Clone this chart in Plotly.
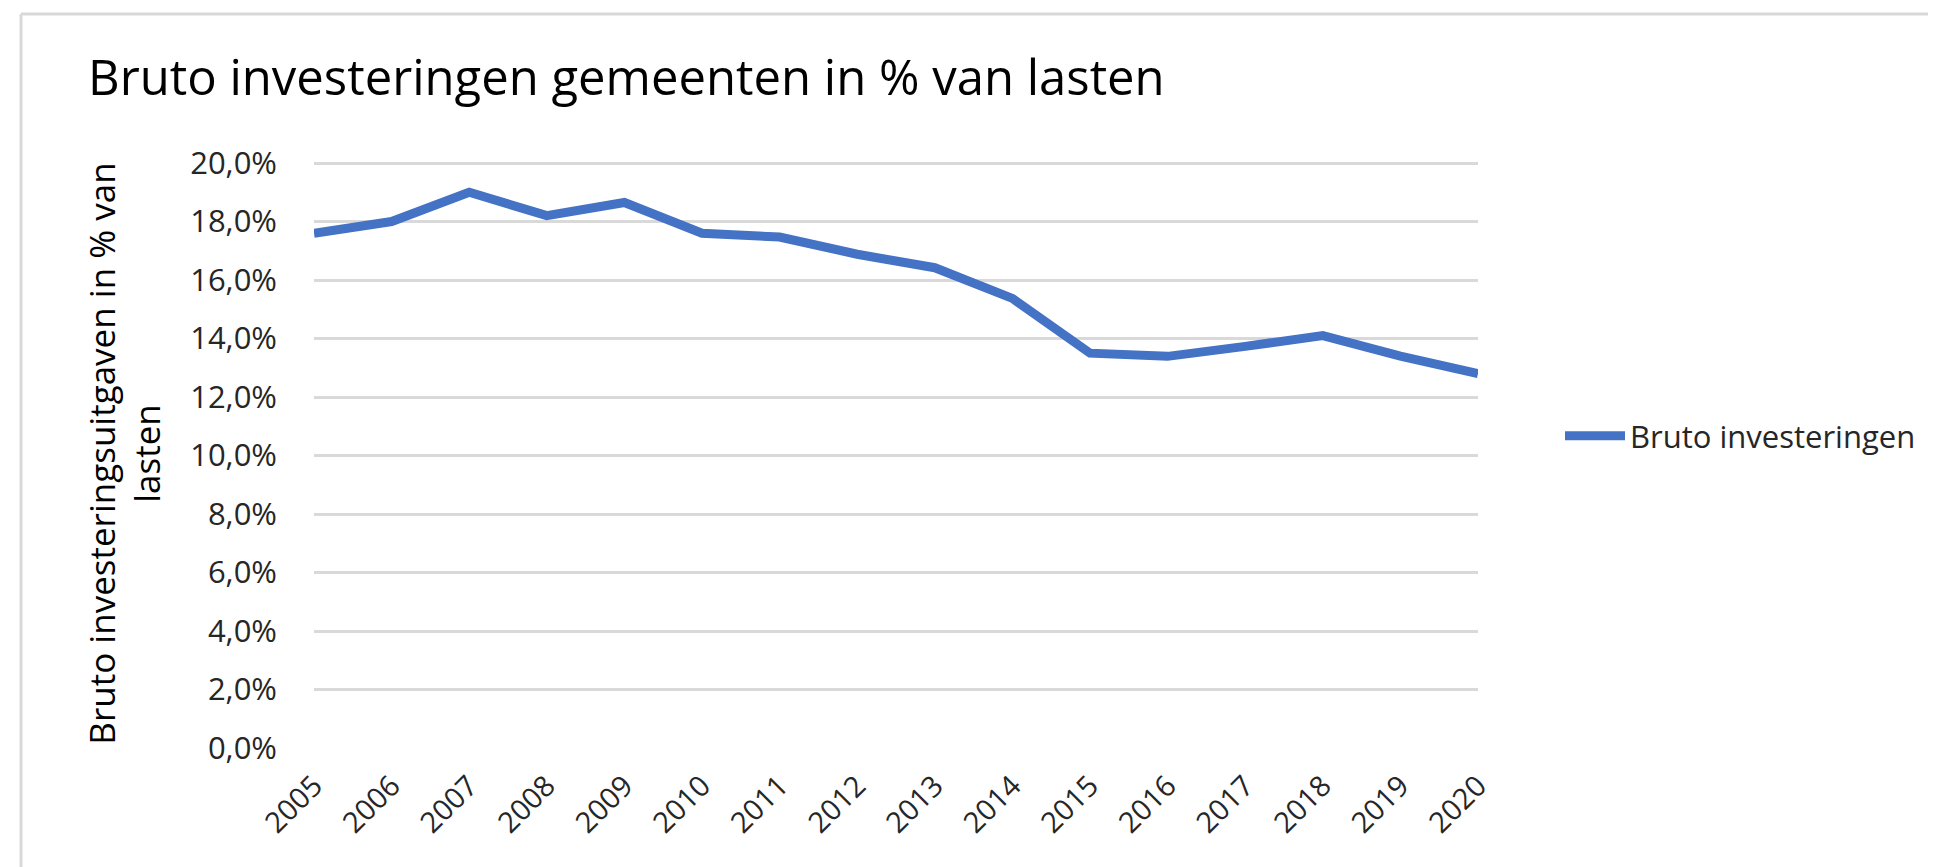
import plotly.graph_objects as go

years = ["2005", "2006", "2007", "2008", "2009", "2010", "2011", "2012",
         "2013", "2014", "2015", "2016", "2017", "2018", "2019", "2020"]
bruto = [0.176, 0.180, 0.190, 0.182, 0.1865, 0.176, 0.1747, 0.1688,
         0.1642, 0.1537, 0.1350, 0.1339, 0.1373, 0.1410, 0.1340, 0.1280]
yticks = [0.0, 0.02, 0.04, 0.06, 0.08, 0.10, 0.12, 0.14, 0.16, 0.18, 0.20]
yticklabels = ["0,0%", "2,0%", "4,0%", "6,0%", "8,0%", "10,0%", "12,0%",
               "14,0%", "16,0%", "18,0%", "20,0%"]

W, H = 1936, 867
L, R, T, B = 306, 1470, 151, 740
YMAX = 0.2 + (155 - T) / ((B - 155) / 0.2)

fig = go.Figure()
fig.add_trace(go.Scatter(
    x=years, y=bruto, mode="lines", name="Bruto investeringen",
    line=dict(color="#4472C4", width=9),
))

font_family = "Open Sans"
fig.update_layout(
    width=W, height=H,
    margin=dict(l=L, r=W - R, t=T, b=H - B, autoexpand=False),
    paper_bgcolor="white", plot_bgcolor="white",
    title=dict(text="Bruto investeringen gemeenten in % van lasten",
               x=80 / W, xanchor="left", y=1 - 70 / H, yanchor="middle",
               font=dict(family=font_family, size=49, color="#000000")),
    showlegend=True,
    legend=dict(x=(1552 - L) / (R - L), xanchor="left", y=(B - 428) / (B - T), yanchor="middle",
                font=dict(family=font_family, size=31, color="#262626"),
                itemwidth=60, bgcolor="rgba(0,0,0,0)"),
    font=dict(family=font_family, color="#262626"),
)
fig.update_xaxes(
    type="category", range=[0, len(years) - 1],
    showgrid=False, showline=False, zeroline=False,
    tickangle=-45, tickfont=dict(family=font_family, size=29, color="#262626"),
    ticks="", ticklabelstandoff=14,
)
fig.update_yaxes(
    range=[0, YMAX], tickvals=yticks, ticktext=yticklabels,
    showgrid=True, gridcolor="#D9D9D9", gridwidth=3,
    zeroline=False, showline=False, ticks="",
    tickfont=dict(family=font_family, size=31, color="#262626"),
    ticklabelstandoff=36,
    title=dict(text="Bruto investeringsuitgaven in % van<br>lasten",
               font=dict(family=font_family, size=35, color="#000000"),
               standoff=18),
    automargin=False,
)
# chart frame (light grey border)
fig.add_shape(type="line", xref="paper", yref="paper",
              x0=(13 - L) / (R - L), x1=(W + 5 - L) / (R - L),
              y0=(B - 6) / (B - T), y1=(B - 6) / (B - T),
              line=dict(color="#D9D9D9", width=3))
fig.add_shape(type="line", xref="paper", yref="paper",
              x0=(13 - L) / (R - L), x1=(13 - L) / (R - L),
              y0=(B - 6) / (B - T), y1=(B - H - 5) / (B - T),
              line=dict(color="#D9D9D9", width=3))

fig.write_html("out.html")
